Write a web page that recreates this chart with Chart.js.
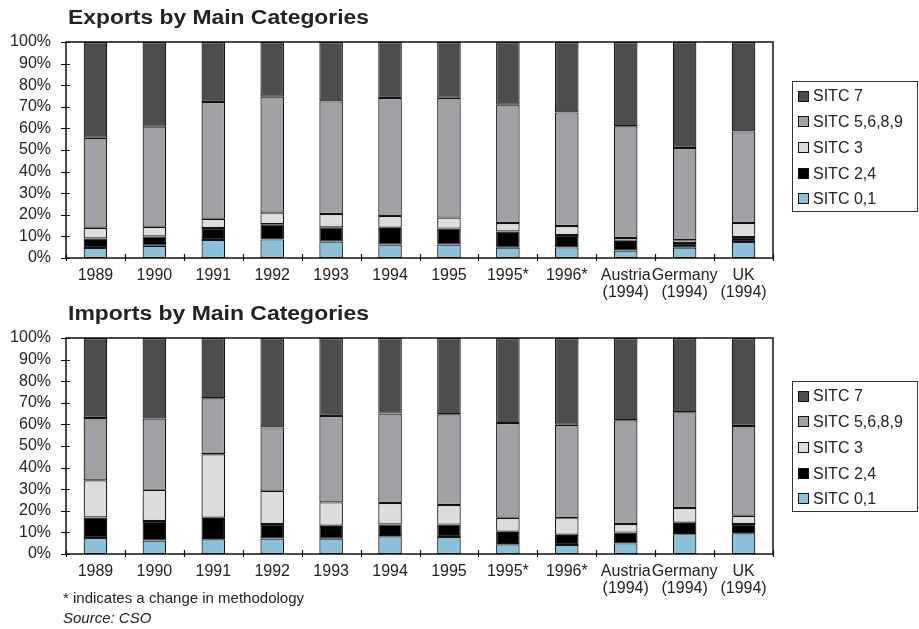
<!DOCTYPE html>
<html>
<head>
<meta charset="utf-8">
<script src="https://cdn.jsdelivr.net/npm/chart.js@4"></script>
<style>
  html, body { margin: 0; padding: 0; background: #fff; }
  #wrap { position: relative; width: 919px; height: 629px; overflow: hidden; }
  canvas { position: absolute; left: 0; }
  #exports { top: 0; }
  #imports { top: 296px; }
</style>
</head>
<body>
<div id="wrap">
  <canvas id="exports" width="919" height="302"></canvas>
  <canvas id="imports" width="919" height="333"></canvas>
</div>
<script>
// Category labels (multi-line where needed)
const categories = ['1989', '1990', '1991', '1992', '1993', '1994', '1995', '1995*', '1996*',
  ['Austria', '(1994)'], ['Germany', '(1994)'], ['UK', '(1994)']];

// Series names, bottom of the stack first
const seriesNames = ['SITC 0,1', 'SITC 2,4', 'SITC 3', 'SITC 5,6,8,9', 'SITC 7'];
const seriesColors = ['#89c1dc', '#000000', '#dcdcdc', '#a0a1a5', '#4d4d4d'];

// Exports: share of each category group, %
const exportsSitc01   = [4.6, 5.7, 8.3, 8.6, 7.6, 6.2, 6.2, 4.8, 4.9, 3.5, 4.8, 7.4];
const exportsSitc24   = [4.4, 4.3, 5.6, 7.0, 6.6, 7.8, 7.4, 7.5, 5.7, 4.5, 2.1, 2.3];
const exportsSitc3    = [5.0, 4.5, 4.3, 5.4, 6.2, 5.4, 5.1, 3.9, 4.2, 1.3, 1.3, 6.5];
const exportsSitc5689 = [41.7, 46.3, 54.0, 53.7, 52.1, 54.7, 55.5, 54.8, 52.6, 51.7, 42.7, 42.4];
const exportsSitc7    = [44.3, 39.2, 27.8, 25.3, 27.5, 25.9, 25.8, 29.0, 32.6, 39.0, 49.1, 41.4];

// Imports: share of each category group, %
const importsSitc01   = [7.4, 6.2, 6.8, 7.2, 7.1, 8.2, 7.9, 4.5, 4.2, 4.9, 9.2, 9.6];
const importsSitc24   = [9.5, 9.1, 10.0, 6.7, 6.0, 5.5, 5.7, 5.8, 4.7, 5.0, 5.3, 4.3];
const importsSitc3    = [17.2, 14.4, 29.4, 15.4, 10.8, 9.9, 9.1, 6.5, 7.7, 4.0, 6.8, 3.8];
const importsSitc5689 = [28.9, 33.0, 25.9, 29.3, 40.0, 41.4, 42.0, 43.8, 43.2, 48.0, 44.3, 41.6];
const importsSitc7    = [37.0, 37.3, 27.9, 41.4, 36.1, 35.0, 35.3, 39.4, 40.2, 38.1, 34.4, 40.7];

// Y axis tick values
const yTicks = [0, 10, 20, 30, 40, 50, 60, 70, 80, 90, 100];

const FONT = "'Liberation Sans', Arial, Helvetica, sans-serif";
const INK = '#222';

// Frame, crossing tick marks, heading, boxed legend and notes
const decorations = {
  id: 'decorations',
  afterDraw(chart, args, opts) {
    const { ctx, chartArea: a, scales: { x, y } } = chart;
    ctx.save();
    ctx.strokeStyle = '#111';
    ctx.lineWidth = 1.5;
    ctx.strokeRect(a.left, a.top, a.right - a.left, a.bottom - a.top);

    ctx.lineWidth = 1.2;
    ctx.beginPath();
    yTicks.forEach(v => {
      const py = Math.round(y.getPixelForValue(v)) + 0.5;
      ctx.moveTo(a.left - 5, py); ctx.lineTo(a.left + 4, py);
    });
    const n = chart.data.labels.length;
    for (let i = 0; i <= n; i++) {
      const px = Math.round(a.left + i * (a.right - a.left) / n) + 0.5;
      ctx.moveTo(px, a.bottom - 4); ctx.lineTo(px, a.bottom + 3);
    }
    ctx.stroke();

    // heading
    ctx.fillStyle = INK;
    ctx.font = 'bold 20px ' + FONT;
    ctx.textBaseline = 'alphabetic';
    ctx.textAlign = 'left';
    const tw = ctx.measureText(opts.title).width;
    ctx.save();
    ctx.translate(a.left + 2, opts.titleY);
    ctx.scale(opts.titleWidth / tw, 1);
    ctx.fillText(opts.title, 0, 0);
    ctx.restore();

    // legend, top item = last dataset
    const lx = 792, ly = opts.legendTop;
    ctx.lineWidth = 1;
    ctx.strokeStyle = '#333';
    ctx.strokeRect(lx + 0.5, ly + 0.5, 125, 130);
    ctx.font = '16px ' + FONT;
    ctx.textBaseline = 'middle';
    const ds = chart.data.datasets.slice().reverse();
    ds.forEach((d, i) => {
      const cy = ly + 15 + i * 25.7;
      ctx.fillStyle = d.backgroundColor;
      ctx.fillRect(798, Math.round(cy - 5.5), 11, 11);
      ctx.strokeStyle = '#111';
      ctx.strokeRect(798.5, Math.round(cy - 5.5) + 0.5, 10, 10);
      ctx.fillStyle = INK;
      ctx.fillText(d.label, 813, cy + 1);
    });

    // notes
    if (opts.notes) {
      ctx.textBaseline = 'alphabetic';
      ctx.font = '15px ' + FONT;
      ctx.fillText('* indicates a change in methodology', 63, a.bottom + 49);
      ctx.font = 'italic 15px ' + FONT;
      ctx.fillText('Source: CSO', 63, a.bottom + 69);
    }
    ctx.restore();
  }
};

function buildDatasets(series) {
  return series.map((vals, i) => ({
    label: seriesNames[i],
    data: vals,
    backgroundColor: seriesColors[i],
    borderColor: '#111',
    borderWidth: 1.2,
    borderSkipped: false,
    barPercentage: 0.4,
    categoryPercentage: 1.0
  }));
}

function makeChart(id, series, title, legendTop, notes, xHeight) {
  return new Chart(document.getElementById(id), {
    type: 'bar',
    data: { labels: categories, datasets: buildDatasets(series) },
    options: {
      responsive: false,
      animation: false,
      layout: { padding: { left: 0, right: 146, top: 42, bottom: 0 } },
      plugins: {
        legend: { display: false },
        tooltip: { enabled: false },
        decorations: { title, titleY: 24, titleWidth: 301, legendTop, notes }
      },
      scales: {
        x: {
          stacked: true,
          grid: { display: false, drawTicks: false },
          border: { display: false },
          ticks: {
            color: INK, padding: 9, maxRotation: 0, autoSkip: false,
            font: { family: FONT, size: 16, lineHeight: 1.05 }
          },
          afterFit(s) { s.height = xHeight; }
        },
        y: {
          stacked: true,
          min: 0, max: 100,
          grid: { display: false, drawTicks: false },
          border: { display: false },
          ticks: {
            stepSize: 10, color: INK, padding: 15, autoSkip: false,
            font: { family: FONT, size: 16 },
            callback: v => v + '%'
          },
          afterFit(s) { s.width = 66; }
        }
      }
    },
    plugins: [decorations]
  });
}

makeChart('exports',
  [exportsSitc01, exportsSitc24, exportsSitc3, exportsSitc5689, exportsSitc7],
  'Exports by Main Categories', 81, false, 44);
makeChart('imports',
  [importsSitc01, importsSitc24, importsSitc3, importsSitc5689, importsSitc7],
  'Imports by Main Categories', 85, true, 75);
</script>
</body>
</html>
